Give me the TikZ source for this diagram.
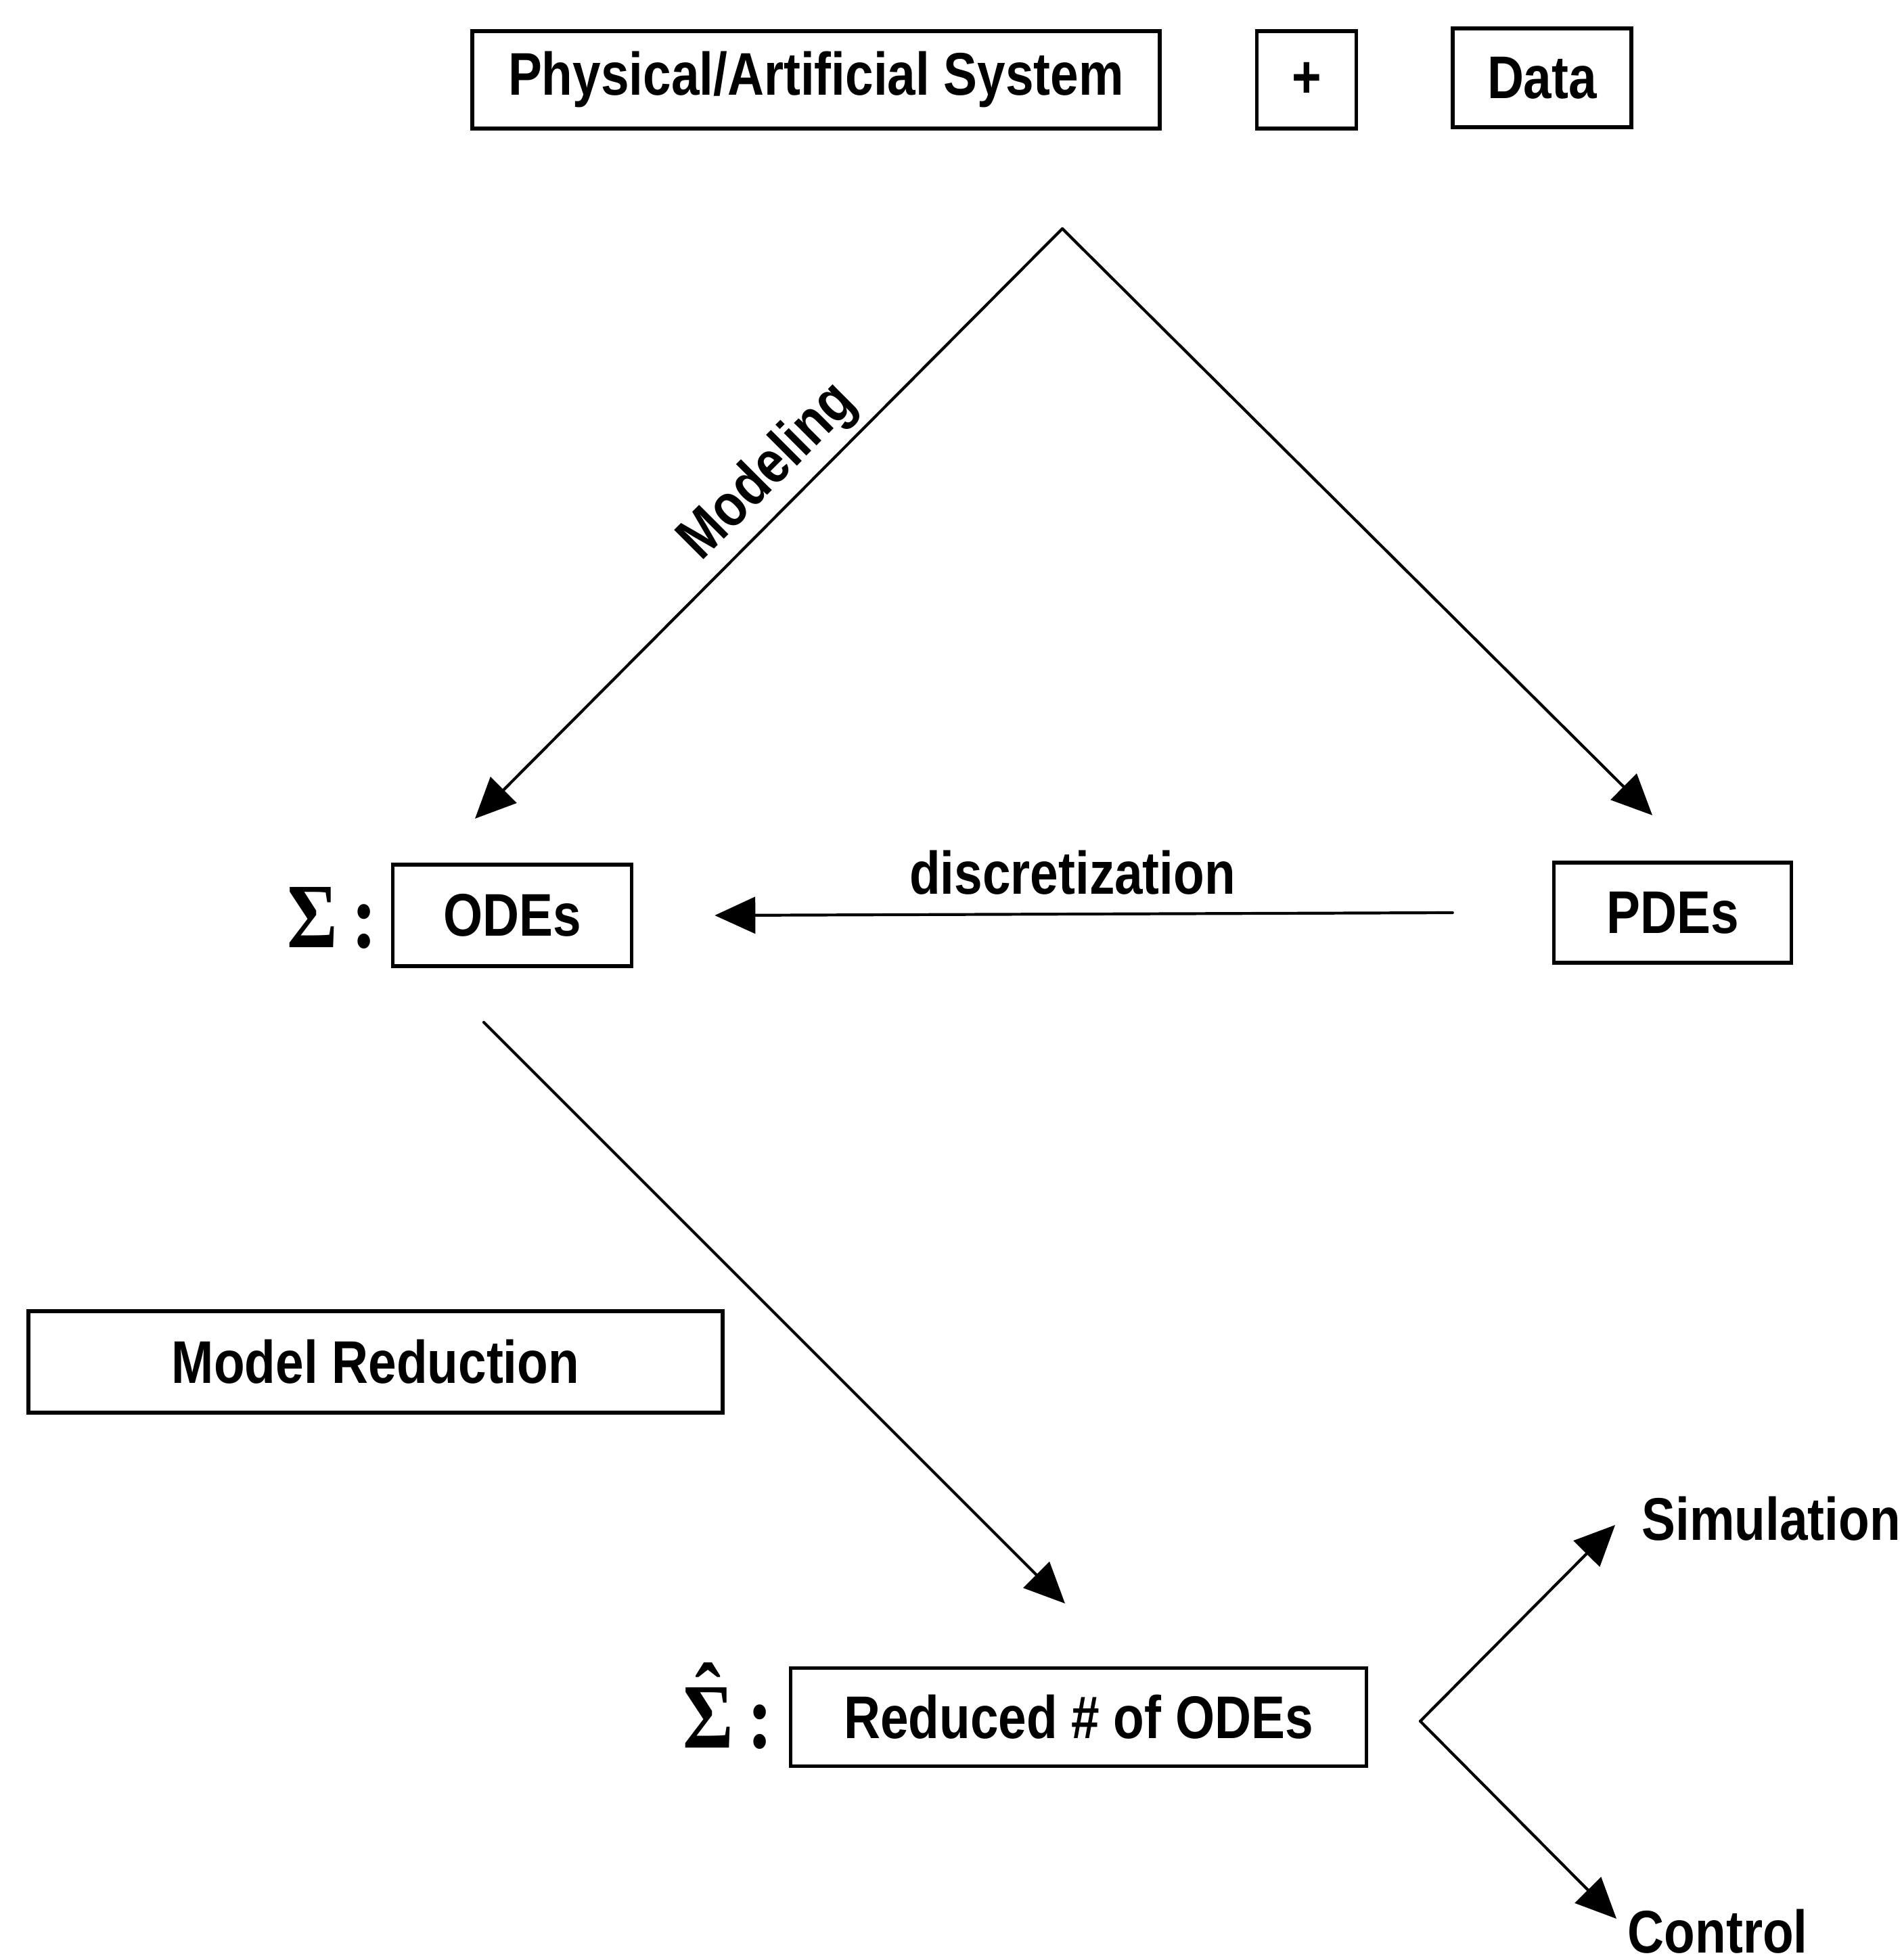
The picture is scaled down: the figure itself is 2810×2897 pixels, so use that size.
\documentclass[tikz,border=0pt]{standalone}
\usepackage{fontspec}
\usetikzlibrary{arrows.meta}
\newfontfamily\dfont[FakeStretch=0.84]{Liberation Sans}
\newfontfamily\sfont[FakeStretch=0.84]{Liberation Serif}
\begin{document}
\begin{tikzpicture}[x=0.25pt,y=-0.25pt,
  box/.style={draw,line width=1.4pt,inner sep=0pt,font=\dfont\bfseries\fontsize{22.25pt}{24pt}\selectfont},
  lbl/.style={inner sep=0pt,font=\dfont\bfseries\fontsize{22.25pt}{24pt}\selectfont},
  conn/.style={line width=1.05pt,line cap=round,-{Triangle[length=15pt,width=13.5pt]}},
  sig/.style={inner sep=0pt,anchor=base east,font=\sfont\bfseries\fontsize{34pt}{36pt}\selectfont}]
\useasboundingbox (0,0) rectangle (2810,2897);

\node[box,minimum width=254pt,minimum height=36pt] (phys) at (1206,118) {Physical/Artificial System};
\node[box,minimum width=36.75pt,minimum height=36pt] (plus) at (1931,118) {+};
\node[box,minimum width=66pt,minimum height=36.5pt] (data) at (2279,115) {Data};
\node[box,minimum width=88.25pt,minimum height=37.5pt] (odes) at (757,1353) {ODEs};
\node[box,minimum width=87.75pt,minimum height=37pt] (pdes) at (2472,1349) {PDEs};
\node[box,minimum width=256.5pt,minimum height=37.5pt] (mr) at (555,2013) {Model Reduction};
\node[box,minimum width=212.75pt,minimum height=36.25pt] (red) at (1594,2538) {Reduced \# of ODEs};

\node[sig] (s1) at (558,1400) {Σ\hspace{5pt}:};
\node[sig] (s2) at (1143,2583) {\ooalign{Σ\cr\hidewidth\raisebox{0.22em}{ˆ}\hidewidth\cr}\hspace{5pt}:};

\node[lbl,rotate=45] (model) at (1136,698) {Modeling};
\node[lbl] (disc) at (1585,1290) {discretization};
\node[lbl,anchor=west] (sim) at (2426,2245) {Simulation};
\node[lbl,anchor=west] (ctrl) at (2405,2855) {Control};

\coordinate (apex) at (1570,338);
\coordinate (odesIn) at (702,1210);
\coordinate (pdesIn) at (2442,1205);
\coordinate (redS) at (715,1511);
\coordinate (redE) at (1574,2370);
\coordinate (br) at (2099,2544);
\coordinate (simE) at (2387,2254);
\coordinate (ctrlE) at (2389,2836);

\draw[conn] (apex) -- (odesIn);
\draw[conn] (apex) -- (pdesIn);
\draw[conn] ([xshift=-36.75pt]pdes.west) -- ([xshift=30pt]odes.east);
\draw[conn] (redS) -- (redE);
\draw[conn] (br) -- (simE);
\draw[conn] (br) -- (ctrlE);
\end{tikzpicture}
\end{document}
